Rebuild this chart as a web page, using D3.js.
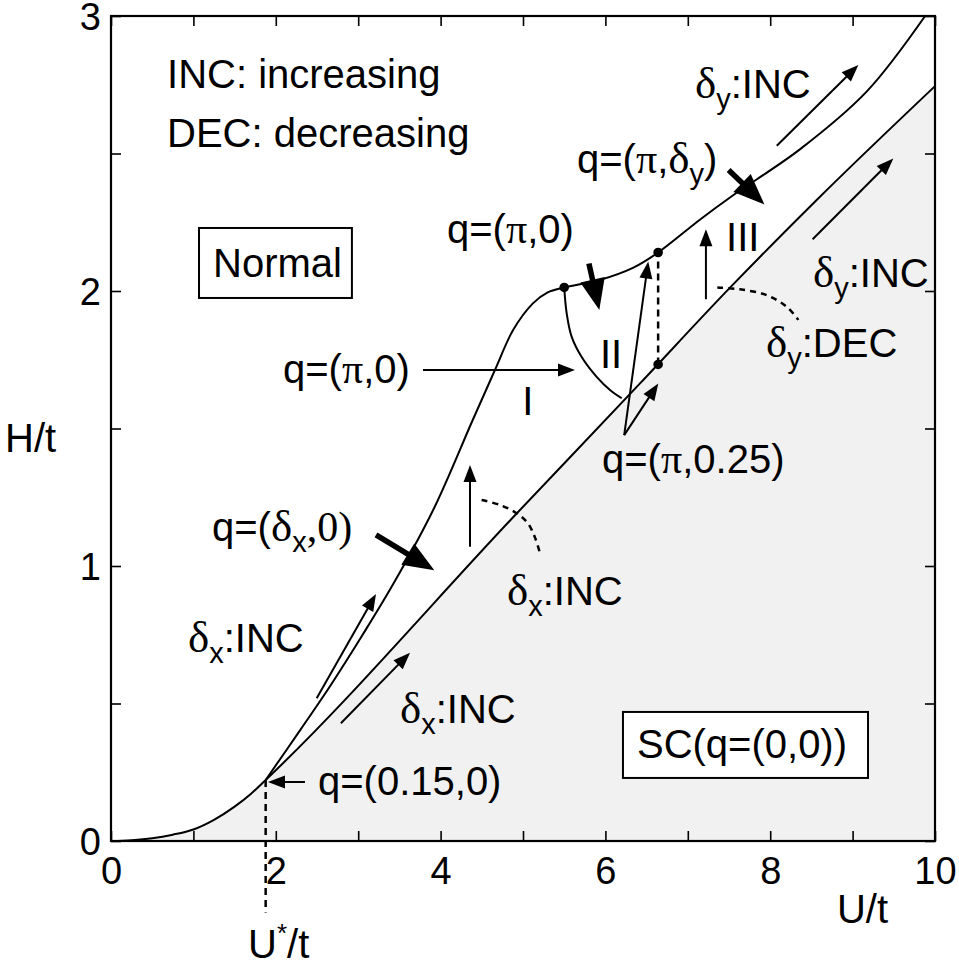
<!DOCTYPE html>
<html><head><meta charset="utf-8">
<script src="https://cdn.jsdelivr.net/npm/d3@7"></script>
<style>body{margin:0;background:#fff} svg{display:block}</style>
</head><body>
<svg id="c" width="959" height="970"></svg>
<script>
// ---------- data ----------
const xTicks = [0,1,2,3,4,5,6,7,8,9,10];
const xTickLabels = [0,2,4,6,8,10];
const yTicks = [0,0.5,1,1.5,2,2.5,3];
const yTickLabels = [0,1,2,3];

// SC / normal boundary (lower curve + nearly straight line)
const lowerU = [0, 0.25, 0.5, 0.75, 1.0, 1.25, 1.5, 1.7, 1.877, 4.92, 6.42, 7.515, 8.564, 10];
const lowerH = [0, 0.003, 0.01, 0.023, 0.042, 0.077, 0.125, 0.172, 0.222, 1.19, 1.664, 2.013, 2.331, 2.745];

// upper boundary
const upperU = [1.877, 2.3, 2.68, 3.05, 3.43, 3.92, 4.39, 4.66, 4.88, 5.12, 5.3, 5.5, 5.93, 6.34, 6.64, 7.15, 7.55, 8.36, 9.17, 9.88];
const upperH = [0.222, 0.405, 0.573, 0.748, 0.937, 1.21, 1.531, 1.713, 1.858, 1.955, 1.995, 2.013, 2.04, 2.085, 2.14, 2.26, 2.348, 2.515, 2.725, 3.0];

// branch between regions I and II
const branchU = [5.5, 5.53, 5.59, 5.71, 5.894, 6.056, 6.198];
const branchH = [2.013, 1.919, 1.834, 1.761, 1.688, 1.64, 1.61];

// dots
const dotU = [5.5, 6.64, 6.64];
const dotH = [2.013, 2.14, 1.733];

// dashed guides
const uStar = 1.877, uStarTop = 0.222, uStarBottom = -0.26;
const vDashU = 6.64, vDashLo = 1.733, vDashHi = 2.14;
const dashXU = [4.498, 4.72, 4.922, 5.06, 5.15, 5.206];
const dashXH = [1.24, 1.222, 1.192, 1.155, 1.1, 1.046];
const dashYU = [7.358, 7.633, 7.957, 8.2, 8.342];
const dashYH = [2.013, 2.006, 1.985, 1.943, 1.895];

// arrows: [tailU, tailH, headU, headH, kind]
const arrows = [
  [2.354, 0.2145, 1.905, 0.2145, "thin"],
  [2.496, 0.519, 3.216, 0.898, "thin"],
  [2.79, 0.428, 3.629, 0.685, "thin"],
  [3.216, 1.113, 3.924, 0.985, "bold"],
  [4.357, 1.07, 4.357, 1.367, "thin"],
  [3.786, 1.713, 5.631, 1.713, "thin"],
  [6.228, 1.476, 6.52, 2.107, "thin"],
  [6.228, 1.476, 6.642, 1.664, "thin"],
  [5.8, 2.1, 5.926, 1.931, "bold"],
  [7.22, 1.97, 7.22, 2.225, "thin"],
  [7.495, 2.44, 7.93, 2.315, "bold"],
  [8.08, 2.528, 9.07, 2.822, "thin"],
  [8.515, 2.188, 9.494, 2.482, "thin"]
];

// labels: position (U,H of baseline start) and text parts; g = greek, s = subscript, S = superscript
const labels = [
  {u:0.68, h:2.738, parts:[["INC: increasing"]]},
  {u:0.68, h:2.524, parts:[["DEC: decreasing"]]},
  {u:1.238, h:2.051, parts:[["Normal"]], box:[14,10,13,13]},
  {u:4.078, h:2.175, parts:[["q=("],["π","g"],[",0)"]]},
  {u:2.087, h:1.665, parts:[["q=("],["π","g"],[",0)"]]},
  {u:4.99, h:1.549, parts:[["I"]]},
  {u:5.934, h:1.72, parts:[["II"]]},
  {u:7.464, h:2.145, parts:[["III"]]},
  {u:5.959, h:1.338, parts:[["q=("],["π","g"],[",0.25)"]]},
  {u:7.087, h:2.702, parts:[["δ","d"],["y","s"],[":INC"]]},
  {u:5.655, h:2.429, parts:[["q=("],["π","g"],[","],["δ","d"],["y","s"],[")"]]},
  {u:8.519, h:2.015, parts:[["δ","d"],["y","s"],[":INC"]]},
  {u:7.949, h:1.76, parts:[["δ","d"],["y","s"],[":DEC"]]},
  {u:1.226, h:1.091, parts:[["q=("],["δ","d"],["x","s"],[",0)","r"]]},
  {u:0.934, h:0.687, parts:[["δ","d"],["x","s"],[":INC"]]},
  {u:3.507, h:0.429, parts:[["δ","d"],["x","s"],[":INC"]]},
  {u:4.806, h:0.858, parts:[["δ","d"],["x","s"],[":INC"]]},
  {u:6.383, h:0.302, parts:[["SC(q=(0,0))"]], box:[14,21,10,12]},
  {u:2.512, h:0.167, parts:[["q=(0.15,0)"]]},
  // axis titles
  {u:8.81, h:-0.298, parts:[["U/t"]]},
  {u:-1.286, h:1.415, parts:[["H/t"]]},
  {u:1.663, h:-0.425, parts:[["U"],["*","S"],["/t"]]}
];

// ---------- drawing ----------
const FONT = "'Liberation Sans', Arial, Helvetica, sans-serif";
const GFONT = "'Liberation Serif', 'Times New Roman', serif";
const svg = d3.select("#c");
const x = d3.scaleLinear().domain([0,10]).range([111,935]);
const y = d3.scaleLinear().domain([0,3]).range([841,16]);

const lowerPts = lowerU.map((u,i)=>[u, lowerH[i]]);
const upperPts = upperU.map((u,i)=>[u, upperH[i]]);
const branchPts = branchU.map((u,i)=>[u, branchH[i]]);
const smooth = d3.line().x(d=>x(d[0])).y(d=>y(d[1])).curve(d3.curveCatmullRom.alpha(0.5));
const mono = d3.line().x(d=>x(d[0])).y(d=>y(d[1])).curve(d3.curveMonotoneX);

// shaded SC region
svg.append("path")
  .datum(lowerPts)
  .attr("fill", "#f1f1f1")
  .attr("d", d3.area().x(d=>x(d[0])).y0(y(0)).y1(d=>y(d[1])).curve(d3.curveMonotoneX));

const gCurves = svg.append("g").attr("fill","none").attr("stroke","#000").attr("stroke-width",2);
gCurves.append("path").datum(lowerPts).attr("d", mono);
gCurves.append("path").datum(upperPts).attr("d", smooth);
gCurves.append("path").datum(branchPts).attr("d", smooth);

// dashed
const gDash = svg.append("g").attr("fill","none").attr("stroke","#000").attr("stroke-width",2.5);
gDash.append("line").attr("x1",x(uStar)).attr("x2",x(uStar)).attr("y1",y(uStarTop)).attr("y2",y(uStarBottom)).attr("stroke-dasharray","7,5");
gDash.append("line").attr("x1",x(vDashU)).attr("x2",x(vDashU)).attr("y1",y(vDashLo)).attr("y2",y(vDashHi)).attr("stroke-dasharray","7,5");
gDash.append("path").datum(dashXU.map((u,i)=>[u,dashXH[i]])).attr("stroke-dasharray","6,5").attr("d", smooth);
gDash.append("path").datum(dashYU.map((u,i)=>[u,dashYH[i]])).attr("stroke-dasharray","6,5").attr("d", smooth);

// axes
function styleAxis(g){
  g.select(".domain").remove();
  g.selectAll(".tick line").attr("stroke","#000").attr("stroke-width",1.6);
  g.selectAll("text").attr("font-family",FONT).attr("font-size",38).attr("fill","#000");
}
svg.append("g").attr("transform",`translate(0,${y(0)})`)
  .call(d3.axisBottom(x).tickValues(xTicks).tickSize(-10).tickSizeOuter(0).tickPadding(16)
    .tickFormat(d => xTickLabels.includes(d) ? d : "")).call(styleAxis);
svg.append("g").attr("transform",`translate(0,${y(3)})`)
  .call(d3.axisTop(x).tickValues(xTicks).tickSize(-10).tickSizeOuter(0).tickFormat("")).call(styleAxis);
svg.append("g").attr("transform",`translate(${x(0)},0)`)
  .call(d3.axisLeft(y).tickValues(yTicks).tickSize(-10).tickSizeOuter(0).tickPadding(10)
    .tickFormat(d => yTickLabels.includes(d) ? d : "")).call(styleAxis)
  .call(g => g.selectAll("text").attr("dy","0.36em"));
svg.append("g").attr("transform",`translate(${x(10)},0)`)
  .call(d3.axisRight(y).tickValues(yTicks).tickSize(-10).tickSizeOuter(0).tickFormat("")).call(styleAxis);
svg.append("rect").attr("x",x(0)).attr("y",y(3)).attr("width",x(10)-x(0)).attr("height",y(0)-y(3))
  .attr("fill","none").attr("stroke","#000").attr("stroke-width",2.2);

// dots
svg.append("g").selectAll("circle").data(dotU).join("circle")
  .attr("cx",(d)=>x(d)).attr("cy",(d,i)=>y(dotH[i])).attr("r",4.8).attr("fill","#000");

// arrows
const gArr = svg.append("g");
arrows.forEach(([tu,th,hu,hh,kind])=>{
  const x1=x(tu), y1=y(th), x2=x(hu), y2=y(hh);
  const bold = kind==="bold";
  const L = bold?31:17, W = bold?25:13, sw = bold?5.5:2;
  const dx=x2-x1, dy=y2-y1, len=Math.hypot(dx,dy), ux=dx/len, uy=dy/len;
  const bx=x2-ux*L, by=y2-uy*L;
  gArr.append("line").attr("x1",x1).attr("y1",y1).attr("x2",bx+ux*2).attr("y2",by+uy*2)
    .attr("stroke","#000").attr("stroke-width",sw);
  gArr.append("polygon").attr("points",[[x2,y2],[bx-uy*W/2,by+ux*W/2],[bx+uy*W/2,by-ux*W/2]].map(p=>p.join(",")).join(" "))
    .attr("fill","#000");
});

// labels
const gLab = svg.append("g");
labels.forEach(lab=>{
  const bx = x(lab.u), by = y(lab.h);
  const t = gLab.append("text").attr("x",bx).attr("y",by).attr("font-family",FONT).attr("font-size",40).attr("fill","#000");
  lab.parts.forEach(([s,k])=>{
    const sp = t.append("tspan").text(s);
    if (k==="g" || k==="r") sp.attr("font-family",GFONT).attr("font-size",42).attr("y",by);
    else if (k==="d") sp.attr("font-family",GFONT).attr("font-size",45).attr("y",by);
    else if (k==="s") sp.attr("font-size",29).attr("y",by+11);
    else if (k==="S") sp.attr("font-size",26).attr("y",by-16);
    else sp.attr("y",by);
  });
  if (lab.box){
    const bb = t.node().getBBox();
    const [l,r,tp,b] = lab.box;
    gLab.insert("rect", () => t.node())
      .attr("x",bb.x-l).attr("y",bb.y-tp).attr("width",bb.width+l+r).attr("height",bb.height+tp+b)
      .attr("fill","#fff").attr("stroke","#000").attr("stroke-width",2);
  }
});
</script></body></html>
